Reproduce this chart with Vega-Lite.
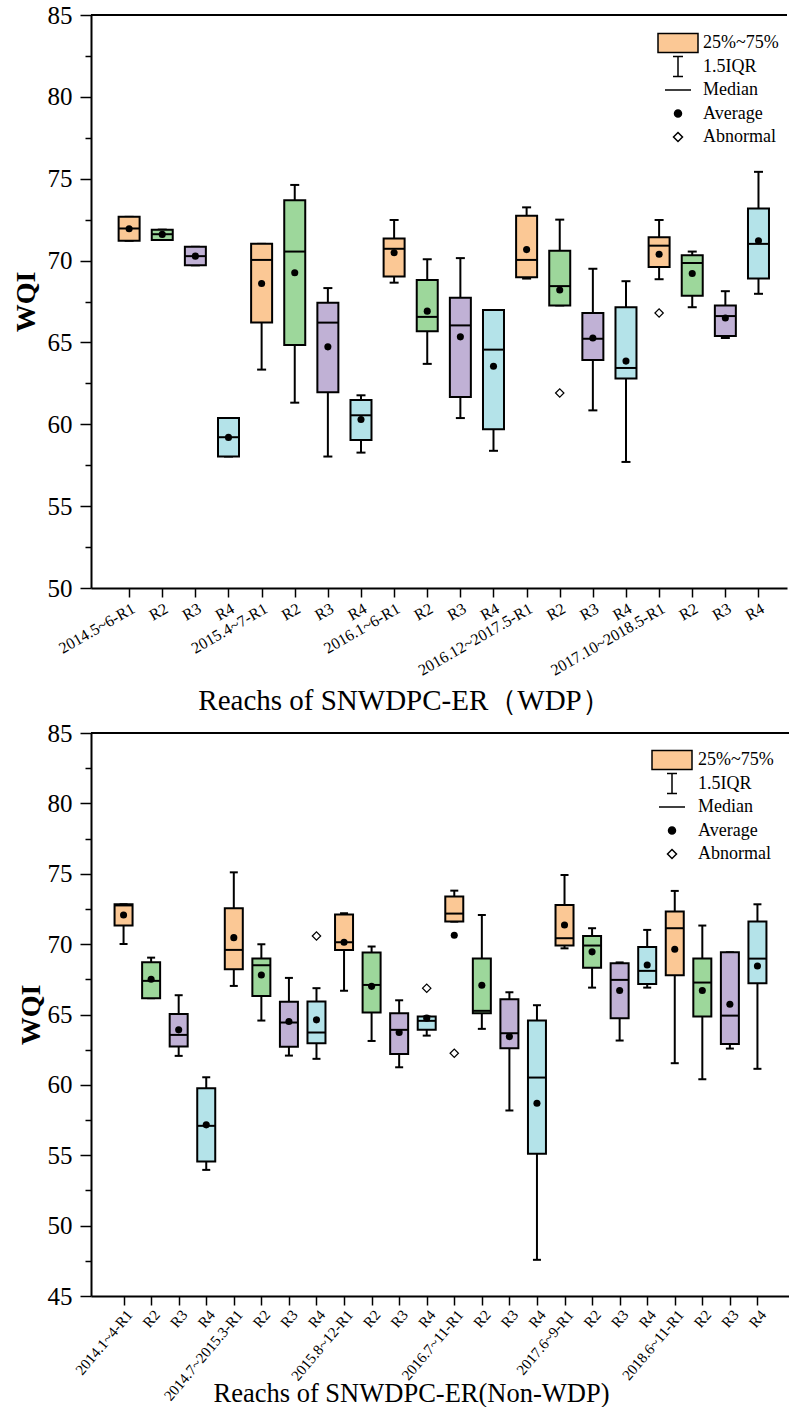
{
  "$schema": "https://vega.github.io/schema/vega-lite/v6.json",
  "background": "white",
  "padding": {"left": 12, "top": 3, "right": 0, "bottom": 0},
  "config": {
    "font": "Liberation Serif",
    "view": {"stroke": null},
    "axis": {"domainColor": "black", "domainWidth": 2, "tickColor": "black", "tickWidth": 1.5, "labelColor": "black", "titleColor": "black", "labelFont": "Liberation Serif", "titleFont": "Liberation Serif", "grid": false, "labelOverlap": false, "labelBound": false, "labelFlush": false},
    "legend": {"labelFont": "Liberation Serif", "labelColor": "black"}
  },
  "datasets": {
    "wdp": [
      {"i": 1, "reach": "R1", "lo": 71.21, "q1": 71.21, "med": 71.96, "q3": 72.67, "hi": 72.67, "mean": 71.94},
      {"i": 2, "reach": "R2", "lo": 71.26, "q1": 71.26, "med": 71.61, "q3": 71.89, "hi": 71.89, "mean": 71.6},
      {"i": 3, "reach": "R3", "lo": 69.71, "q1": 69.71, "med": 70.27, "q3": 70.84, "hi": 70.84, "mean": 70.27},
      {"i": 4, "reach": "R4", "lo": 58.03, "q1": 58.03, "med": 59.21, "q3": 60.38, "hi": 60.38, "mean": 59.2},
      {"i": 5, "reach": "R1", "lo": 63.34, "q1": 66.21, "med": 70.04, "q3": 71.02, "hi": 71.02, "mean": 68.6},
      {"i": 6, "reach": "R2", "lo": 61.32, "q1": 64.85, "med": 70.55, "q3": 73.68, "hi": 74.62, "mean": 69.26},
      {"i": 7, "reach": "R3", "lo": 58.03, "q1": 61.96, "med": 66.21, "q3": 67.43, "hi": 68.32, "mean": 64.73},
      {"i": 8, "reach": "R4", "lo": 58.27, "q1": 59.04, "med": 60.55, "q3": 61.49, "hi": 61.77, "mean": 60.29},
      {"i": 9, "reach": "R1", "lo": 68.65, "q1": 69.03, "med": 70.72, "q3": 71.35, "hi": 72.48, "mean": 70.48},
      {"i": 10, "reach": "R2", "lo": 63.69, "q1": 65.69, "med": 66.56, "q3": 68.81, "hi": 70.08, "mean": 66.91},
      {"i": 11, "reach": "R3", "lo": 60.38, "q1": 61.67, "med": 66.04, "q3": 67.73, "hi": 70.15, "mean": 65.34},
      {"i": 12, "reach": "R4", "lo": 58.38, "q1": 59.7, "med": 64.56, "q3": 66.98, "hi": 66.98, "mean": 63.55},
      {"i": 13, "reach": "R1", "lo": 68.9, "q1": 68.98, "med": 70.04, "q3": 72.74, "hi": 73.25, "mean": 70.67},
      {"i": 14, "reach": "R2", "lo": 67.26, "q1": 67.26, "med": 68.44, "q3": 70.6, "hi": 72.5, "mean": 68.2},
      {"i": 15, "reach": "R3", "lo": 60.85, "q1": 63.93, "med": 65.22, "q3": 66.8, "hi": 69.5, "mean": 65.27},
      {"i": 16, "reach": "R4", "lo": 57.7, "q1": 62.8, "med": 63.44, "q3": 67.15, "hi": 68.74, "mean": 63.86},
      {"i": 17, "reach": "R1", "lo": 68.86, "q1": 69.61, "med": 70.91, "q3": 71.42, "hi": 72.48, "mean": 70.39},
      {"i": 18, "reach": "R2", "lo": 67.15, "q1": 67.85, "med": 69.85, "q3": 70.32, "hi": 70.55, "mean": 69.21},
      {"i": 19, "reach": "R3", "lo": 65.27, "q1": 65.39, "med": 66.61, "q3": 67.26, "hi": 68.13, "mean": 66.49},
      {"i": 20, "reach": "R4", "lo": 67.97, "q1": 68.91, "med": 71.02, "q3": 73.18, "hi": 75.42, "mean": 71.21}
    ],
    "wdp_out": [
      {"i": 14, "v": 61.91},
      {"i": 17, "v": 66.8}
    ],
    "nonwdp": [
      {"i": 1, "reach": "R1", "lo": 70.01, "q1": 71.32, "med": 72.75, "q3": 72.83, "hi": 72.83, "mean": 72.07},
      {"i": 2, "reach": "R2", "lo": 66.16, "q1": 66.16, "med": 67.39, "q3": 68.71, "hi": 69.04, "mean": 67.5},
      {"i": 3, "reach": "R3", "lo": 62.06, "q1": 62.72, "med": 63.55, "q3": 65.04, "hi": 66.37, "mean": 63.91},
      {"i": 4, "reach": "R4", "lo": 53.96, "q1": 54.55, "med": 57.09, "q3": 59.76, "hi": 60.54, "mean": 57.16},
      {"i": 5, "reach": "R1", "lo": 67.03, "q1": 68.22, "med": 69.59, "q3": 72.55, "hi": 75.1, "mean": 70.46},
      {"i": 6, "reach": "R2", "lo": 64.57, "q1": 66.32, "med": 68.5, "q3": 68.97, "hi": 69.99, "mean": 67.81},
      {"i": 7, "reach": "R3", "lo": 62.08, "q1": 62.7, "med": 64.43, "q3": 65.9, "hi": 67.6, "mean": 64.5},
      {"i": 8, "reach": "R4", "lo": 61.85, "q1": 62.96, "med": 63.72, "q3": 65.93, "hi": 66.87, "mean": 64.62},
      {"i": 9, "reach": "R1", "lo": 66.68, "q1": 69.59, "med": 70.13, "q3": 72.1, "hi": 72.2, "mean": 70.13},
      {"i": 10, "reach": "R2", "lo": 63.12, "q1": 65.14, "med": 67.1, "q3": 69.4, "hi": 69.83, "mean": 67.0},
      {"i": 11, "reach": "R3", "lo": 61.25, "q1": 62.2, "med": 63.91, "q3": 65.09, "hi": 66.01, "mean": 63.72},
      {"i": 12, "reach": "R4", "lo": 63.5, "q1": 63.91, "med": 64.55, "q3": 64.85, "hi": 64.85, "mean": 64.74},
      {"i": 13, "reach": "R1", "lo": 71.6, "q1": 71.6, "med": 72.17, "q3": 73.38, "hi": 73.8, "mean": 70.63},
      {"i": 14, "reach": "R2", "lo": 63.98, "q1": 65.09, "med": 65.26, "q3": 68.97, "hi": 72.07, "mean": 67.08},
      {"i": 15, "reach": "R3", "lo": 58.18, "q1": 62.6, "med": 63.67, "q3": 66.09, "hi": 66.58, "mean": 63.43},
      {"i": 16, "reach": "R4", "lo": 47.57, "q1": 55.1, "med": 60.52, "q3": 64.57, "hi": 65.66, "mean": 58.7},
      {"i": 17, "reach": "R1", "lo": 69.7, "q1": 69.9, "med": 70.42, "q3": 72.78, "hi": 74.91, "mean": 71.36},
      {"i": 18, "reach": "R2", "lo": 66.91, "q1": 68.33, "med": 69.9, "q3": 70.58, "hi": 71.13, "mean": 69.45},
      {"i": 19, "reach": "R3", "lo": 63.15, "q1": 64.74, "med": 67.46, "q3": 68.64, "hi": 68.7, "mean": 66.7},
      {"i": 20, "reach": "R4", "lo": 66.91, "q1": 67.17, "med": 68.1, "q3": 69.8, "hi": 71.01, "mean": 68.52},
      {"i": 21, "reach": "R1", "lo": 61.54, "q1": 67.79, "med": 71.13, "q3": 72.31, "hi": 73.78, "mean": 69.64},
      {"i": 22, "reach": "R2", "lo": 60.4, "q1": 64.85, "med": 67.27, "q3": 68.97, "hi": 71.32, "mean": 66.7},
      {"i": 23, "reach": "R3", "lo": 62.58, "q1": 62.91, "med": 64.92, "q3": 69.42, "hi": 69.42, "mean": 65.73},
      {"i": 24, "reach": "R4", "lo": 61.14, "q1": 67.22, "med": 68.97, "q3": 71.6, "hi": 72.83, "mean": 68.45}
    ],
    "nonwdp_out": [
      {"i": 8, "v": 70.58},
      {"i": 12, "v": 66.87},
      {"i": 13, "v": 62.25}
    ],
    "legend": [
      {"item": "25%~75%"},
      {"item": "1.5IQR"},
      {"item": "Median"},
      {"item": "Average"},
      {"item": "Abnormal"}
    ]
  },
  "concat": [
    {
      "width": 696,
      "height": 573,
      "encoding": {
        "x": {"field": "i", "type": "quantitative", "scale": {"domain": [0, 20.71], "nice": false, "zero": false},
          "axis": {"values": [1,2,3,4,5,6,7,8,9,10,11,12,13,14,15,16,17,18,19,20],
            "labelExpr": "['','2014.5~6-R1','R2','R3','R4','2015.4~7-R1','R2','R3','R4','2016.1~6-R1','R2','R3','R4','2016.12~2017.5-R1','R2','R3','R4','2017.10~2018.5-R1','R2','R3','R4'][datum.value]",
            "labelAngle": -30, "labelAlign": "right", "labelBaseline": "top", "labelFontSize": 16, "labelPadding": 3, "tickSize": 9,
            "title": "Reachs of SNWDPC-ER（WDP）", "titleFontSize": 29, "titleFontWeight": "normal", "titleX": 313, "titleY": 121, "titleBaseline": "alphabetic", "titleAlign": "center", "titleAnchor": null}},
        "y": {"type": "quantitative", "scale": {"domain": [50, 85], "nice": false, "zero": false},
          "axis": {"values": [50,52.5,55,57.5,60,62.5,65,67.5,70,72.5,75,77.5,80,82.5,85],
            "labelExpr": "datum.value % 5 === 0 ? datum.label : ''",
            "tickSize": {"condition": {"test": "datum.value % 5 === 0", "value": 11}, "value": 6},
            "labelFontSize": 25, "labelPadding": 8, "title": "WQI", "titleFontSize": 28, "titleFontWeight": "bold", "titlePadding": 7}}
      },
      "layer": [
        {"data": {"name": "wdp"}, "mark": {"type": "rule", "color": "black", "strokeWidth": 2, "opacity": 1},
          "encoding": {"y": {"field": "lo"}, "y2": {"field": "hi"}}},
        {"data": {"name": "wdp"}, "mark": {"type": "tick", "orient": "horizontal", "size": 9, "thickness": 2, "color": "black", "opacity": 1},
          "encoding": {"y": {"field": "lo"}}},
        {"data": {"name": "wdp"}, "mark": {"type": "tick", "orient": "horizontal", "size": 9, "thickness": 2, "color": "black", "opacity": 1},
          "encoding": {"y": {"field": "hi"}}},
        {"data": {"name": "wdp"}, "mark": {"type": "bar", "size": 21, "stroke": "black", "strokeWidth": 2, "opacity": 1},
          "encoding": {"y": {"field": "q1"}, "y2": {"field": "q3"},
            "color": {"field": "reach", "type": "nominal", "legend": null, "scale": {"domain": ["R1","R2","R3","R4"], "range": ["#FBC895","#9DD79B","#C0B1D5","#B4E3E9"]}}}},
        {"data": {"name": "wdp"}, "mark": {"type": "tick", "orient": "horizontal", "size": 21, "thickness": 2, "color": "black", "opacity": 1},
          "encoding": {"y": {"field": "med"}}},
        {"data": {"name": "wdp"}, "mark": {"type": "point", "filled": true, "color": "black", "size": 50, "opacity": 1},
          "encoding": {"y": {"field": "mean"}}},
        {"data": {"name": "wdp_out"}, "mark": {"type": "point", "shape": "diamond", "filled": false, "color": "black", "strokeWidth": 1.2, "size": 70, "opacity": 1},
          "encoding": {"y": {"field": "v"}}},
        {"data": {"values": [{}]}, "mark": {"type": "rule", "color": "black", "strokeWidth": 2},
          "encoding": {"x": null, "y": {"datum": 85}}},
        {"data": {"name": "legend"}, "mark": {"type": "point", "filled": true, "strokeWidth": 1.5, "size": 100, "opacity": 1, "clip": true},
          "encoding": {"x": {"datum": -5}, "y": {"datum": 0},
            "shape": {"field": "item", "type": "nominal", "scale": {"domain": ["25%~75%","1.5IQR","Median","Average","Abnormal"], "range": ["M-4,-2M4,2M-4,-1.9H4V1.9H-4Z","M-4,-2M4,2M-1,-2H1M0,-2V2M-1,2H1","M-4,-2M4,2M-2.6,0H2.6","M-4,-2M4,2M0.7,0A0.7,0.7,0,1,1,-0.7,0A0.7,0.7,0,1,1,0.7,0","M-4,-2M4,2M0,-0.9L0.9,0L0,0.9L-0.9,0Z"]},
              "legend": {"title": null, "orient": "none", "legendX": 578, "legendY": 19, "labelFontSize": 18, "symbolSize": 100, "symbolStrokeWidth": 1.5, "labelOffset": 16, "rowPadding": -2.5, "padding": 0}},
            "fill": {"field": "item", "type": "nominal", "scale": {"domain": ["25%~75%","1.5IQR","Median","Average","Abnormal"], "range": ["#FBC895","transparent","transparent","black","white"]},
              "legend": {"title": null, "orient": "none", "legendX": 578, "legendY": 19, "labelFontSize": 18, "symbolSize": 100, "symbolStrokeWidth": 1.5, "labelOffset": 16, "rowPadding": -2.5, "padding": 0}},
            "stroke": {"field": "item", "type": "nominal", "scale": {"domain": ["25%~75%","1.5IQR","Median","Average","Abnormal"], "range": ["black","black","black","black","black"]},
              "legend": {"title": null, "orient": "none", "legendX": 578, "legendY": 19, "labelFontSize": 18, "symbolSize": 100, "symbolStrokeWidth": 1.5, "labelOffset": 16, "rowPadding": -2.5, "padding": 0}}}}
      ]
    },
    {
      "width": 699,
      "height": 563,
      "encoding": {
        "x": {"field": "i", "type": "quantitative", "scale": {"domain": [0, 25], "nice": false, "zero": false},
          "axis": {"values": [1,2,3,4,5,6,7,8,9,10,11,12,13,14,15,16,17,18,19,20,21,22,23,24],
            "labelExpr": "['','2014.1~4-R1','R2','R3','R4','2014.7~2015.3-R1','R2','R3','R4','2015.8~12-R1','R2','R3','R4','2016.7~11-R1','R2','R3','R4','2017.6~9-R1','R2','R3','R4','2018.6~11-R1','R2','R3','R4'][datum.value]",
            "labelAngle": -50, "labelAlign": "right", "labelBaseline": "top", "labelFontSize": 15, "labelPadding": 2, "tickSize": 9,
            "title": "Reachs of SNWDPC-ER(Non-WDP)", "titleFontSize": 26.5, "titleFontWeight": "normal", "titleX": 320, "titleY": 105, "titleBaseline": "alphabetic", "titleAlign": "center", "titleAnchor": null}},
        "y": {"type": "quantitative", "scale": {"domain": [45, 85], "nice": false, "zero": false},
          "axis": {"values": [45,47.5,50,52.5,55,57.5,60,62.5,65,67.5,70,72.5,75,77.5,80,82.5,85],
            "labelExpr": "datum.value % 5 === 0 ? datum.label : ''",
            "tickSize": {"condition": {"test": "datum.value % 5 === 0", "value": 11}, "value": 6},
            "labelFontSize": 25, "labelPadding": 8, "title": "WQI", "titleFontSize": 28, "titleFontWeight": "bold", "titlePadding": 2}}
      },
      "layer": [
        {"data": {"name": "nonwdp"}, "mark": {"type": "rule", "color": "black", "strokeWidth": 2, "opacity": 1},
          "encoding": {"y": {"field": "lo"}, "y2": {"field": "hi"}}},
        {"data": {"name": "nonwdp"}, "mark": {"type": "tick", "orient": "horizontal", "size": 8, "thickness": 2, "color": "black", "opacity": 1},
          "encoding": {"y": {"field": "lo"}}},
        {"data": {"name": "nonwdp"}, "mark": {"type": "tick", "orient": "horizontal", "size": 8, "thickness": 2, "color": "black", "opacity": 1},
          "encoding": {"y": {"field": "hi"}}},
        {"data": {"name": "nonwdp"}, "mark": {"type": "bar", "size": 18, "stroke": "black", "strokeWidth": 2, "opacity": 1},
          "encoding": {"y": {"field": "q1"}, "y2": {"field": "q3"},
            "color": {"field": "reach", "type": "nominal", "legend": null, "scale": {"domain": ["R1","R2","R3","R4"], "range": ["#FBC895","#9DD79B","#C0B1D5","#B4E3E9"]}}}},
        {"data": {"name": "nonwdp"}, "mark": {"type": "tick", "orient": "horizontal", "size": 18, "thickness": 2, "color": "black", "opacity": 1},
          "encoding": {"y": {"field": "med"}}},
        {"data": {"name": "nonwdp"}, "mark": {"type": "point", "filled": true, "color": "black", "size": 50, "opacity": 1},
          "encoding": {"y": {"field": "mean"}}},
        {"data": {"name": "nonwdp_out"}, "mark": {"type": "point", "shape": "diamond", "filled": false, "color": "black", "strokeWidth": 1.2, "size": 70, "opacity": 1},
          "encoding": {"y": {"field": "v"}}},
        {"data": {"values": [{}]}, "mark": {"type": "rule", "color": "black", "strokeWidth": 2},
          "encoding": {"x": null, "y": {"datum": 85}}},
        {"data": {"values": [{}]}, "mark": {"type": "rule", "color": "black", "strokeWidth": 2},
          "encoding": {"x": {"datum": 25}, "y": null}},
        {"data": {"name": "legend"}, "mark": {"type": "point", "filled": true, "strokeWidth": 1.5, "size": 100, "opacity": 1, "clip": true},
          "encoding": {"x": {"datum": -5}, "y": {"datum": 0},
            "shape": {"field": "item", "type": "nominal", "scale": {"domain": ["25%~75%","1.5IQR","Median","Average","Abnormal"], "range": ["M-4,-2M4,2M-4,-1.9H4V1.9H-4Z","M-4,-2M4,2M-1,-2H1M0,-2V2M-1,2H1","M-4,-2M4,2M-2.6,0H2.6","M-4,-2M4,2M0.7,0A0.7,0.7,0,1,1,-0.7,0A0.7,0.7,0,1,1,0.7,0","M-4,-2M4,2M0,-0.9L0.9,0L0,0.9L-0.9,0Z"]},
              "legend": {"title": null, "orient": "none", "legendX": 572, "legendY": 18, "labelFontSize": 18, "symbolSize": 100, "symbolStrokeWidth": 1.5, "labelOffset": 17, "rowPadding": -2.5, "padding": 0}},
            "fill": {"field": "item", "type": "nominal", "scale": {"domain": ["25%~75%","1.5IQR","Median","Average","Abnormal"], "range": ["#FBC895","transparent","transparent","black","white"]},
              "legend": {"title": null, "orient": "none", "legendX": 572, "legendY": 18, "labelFontSize": 18, "symbolSize": 100, "symbolStrokeWidth": 1.5, "labelOffset": 17, "rowPadding": -2.5, "padding": 0}},
            "stroke": {"field": "item", "type": "nominal", "scale": {"domain": ["25%~75%","1.5IQR","Median","Average","Abnormal"], "range": ["black","black","black","black","black"]},
              "legend": {"title": null, "orient": "none", "legendX": 572, "legendY": 18, "labelFontSize": 18, "symbolSize": 100, "symbolStrokeWidth": 1.5, "labelOffset": 17, "rowPadding": -2.5, "padding": 0}}}}
      ]
    }
  ],
  "columns": 1,
  "align": "none",
  "spacing": 6,
  "resolve": {
    "scale": {"color": "independent", "fill": "independent", "stroke": "independent", "shape": "independent"},
    "legend": {"color": "independent", "fill": "independent", "stroke": "independent", "shape": "independent"}
  }
}
